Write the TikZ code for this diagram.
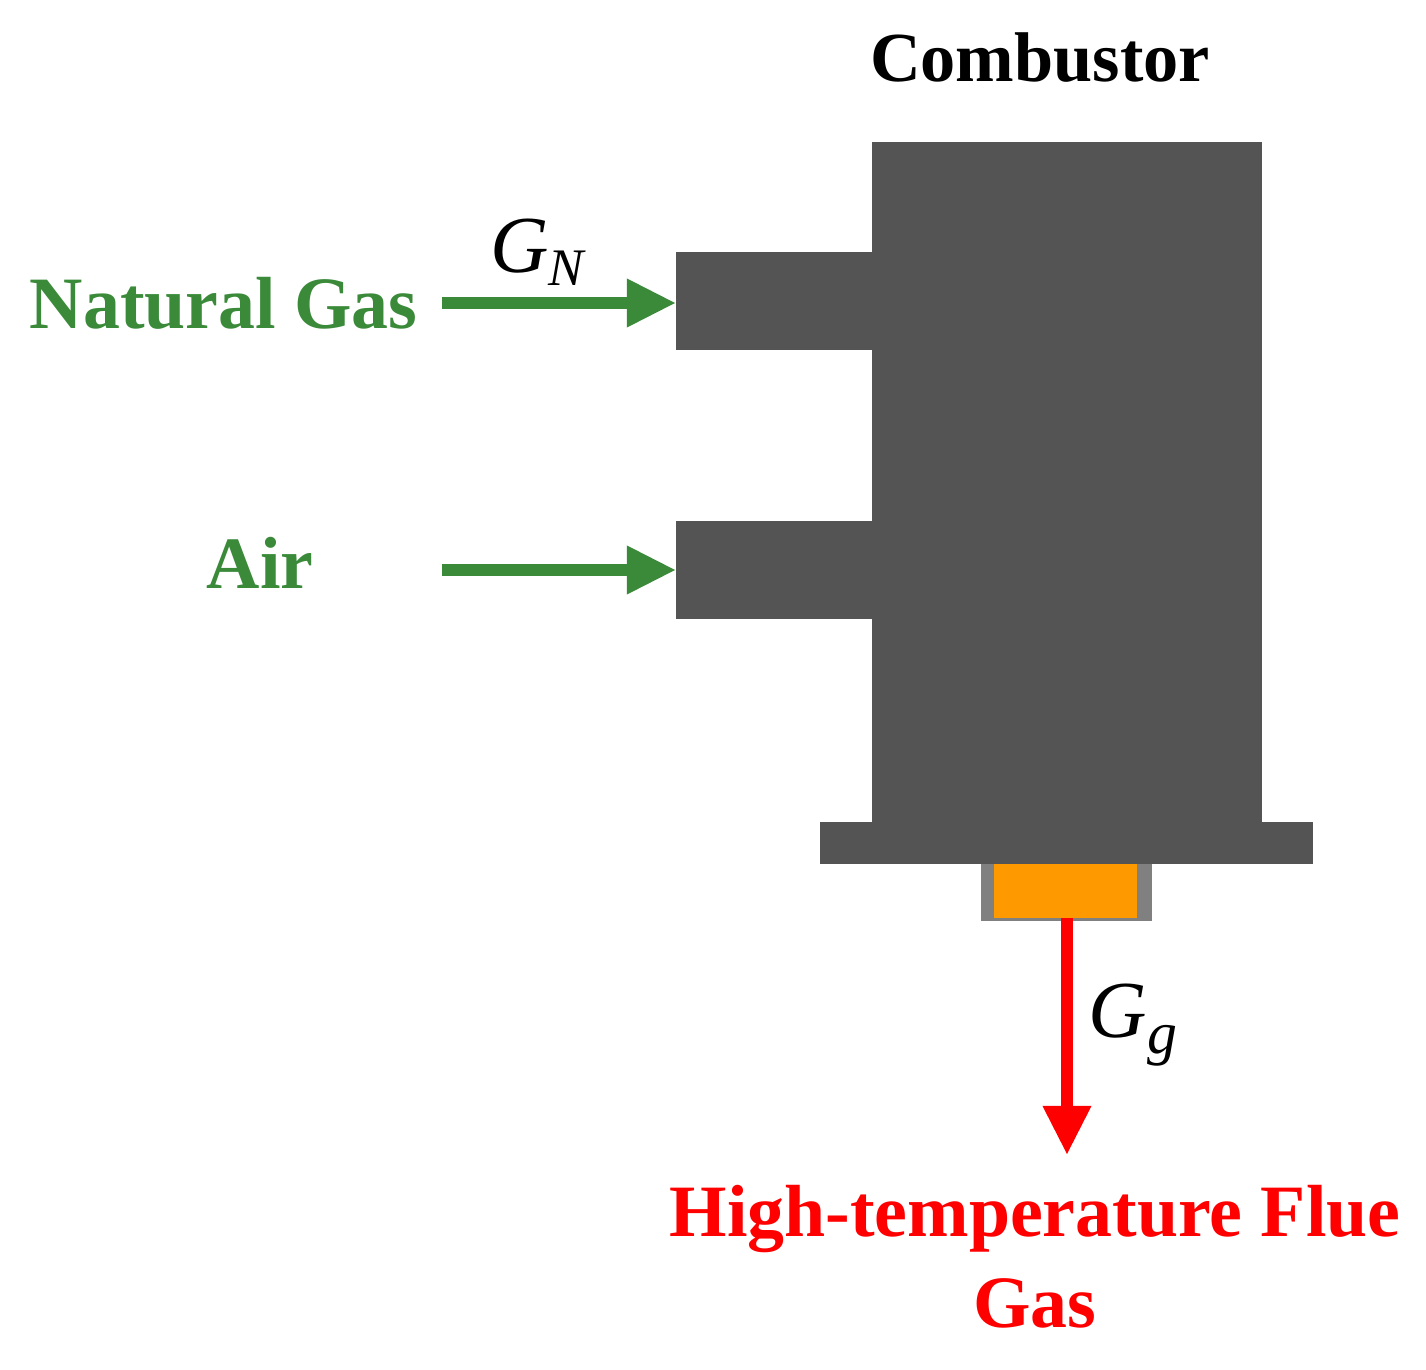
\documentclass[tikz,border=0pt]{standalone}
\usepackage{fontspec}
\setmainfont{Liberation Serif}
\usetikzlibrary{arrows.meta}
\definecolor{body}{HTML}{545454}
\definecolor{grn}{HTML}{3A8A3A}
\definecolor{org}{HTML}{FF9900}
\definecolor{rd}{HTML}{FF0000}
\begin{document}
\begin{tikzpicture}[x=0.01cm,y=-0.01cm,
  part/.style={fill=body,draw=none},
  flow/.style={line width=3.2pt,-{Triangle[length=14pt,width=13pt]}},
  lab/.style={font=\fontsize{21}{24}\selectfont\bfseries}]
\useasboundingbox (0,0) rectangle (1426,1370);
\fill[part] (872,142) rectangle (1262,825);
\fill[part] (676,252) rectangle (873,350);
\fill[part] (676,521) rectangle (873,619);
\fill[part] (820,822) rectangle (1313,864);
\fill[gray] (981,864) rectangle (1152,921);
\fill[org] (994,864) rectangle (1137,918);
\coordinate (o) at (1067,918);
\coordinate (in1) at (676,303);
\coordinate (in2) at (676,570);
\node[font=\fontsize{20}{24}\selectfont\bfseries] (c) at (1040,58) {Combustor};
\node[lab,text=grn,anchor=east] (ng) at (430,303) {Natural Gas};
\node[lab,text=grn] (air) at (260,563) {Air};
\coordinate (a1) at (442,303);
\coordinate (a2) at (442,570);
\draw[flow,grn] (a1) -- (in1);
\draw[flow,grn] (a2) -- (in2);
\coordinate (r) at (1067,1155);
\draw[flow,rd] (o) -- (r);
\node[font=\fontsize{23}{24}\selectfont\itshape] (gn) at (537,252) {G\raisebox{-0.35ex}{\fontsize{15}{16}\selectfont N}};
\node[font=\fontsize{23}{24}\selectfont\itshape] (gg) at (1133,1025) {G\raisebox{-0.45ex}{\fontsize{17}{18}\selectfont g}};
\node[lab,text=rd,align=center] (hf) at (1035,1257) {High-temperature Flue\\[2pt]Gas};
\end{tikzpicture}
\end{document}
